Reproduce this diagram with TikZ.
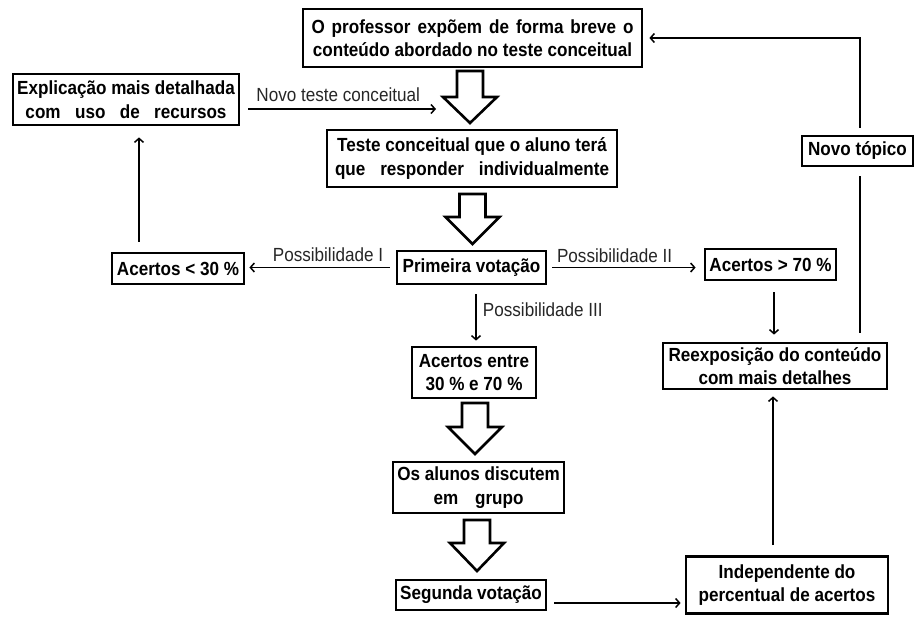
\documentclass[tikz,border=0pt]{standalone}
\usepackage{fontspec}
\setmainfont{Liberation Sans}[FakeStretch=0.9]
\usetikzlibrary{arrows.meta}
\newcommand\hollowarrow[4]{% x, top, headstart, tip
  \draw[hollow] (#1-13,#2) -- (#1+13,#2) -- (#1+13,#3) -- (#1+27,#3) -- (#1,#4)
    -- (#1-27,#3) -- (#1-13,#3) -- cycle;}
\begin{document}
\begin{tikzpicture}[x=1pt,y=-1pt,
  box/.style={draw, line width=2.8pt, inner sep=0pt, align=center,
    font=\fontsize{19}{23.5}\selectfont\bfseries},
  lbl/.style={inner sep=0pt, text=black!85, font=\fontsize{19}{20}\selectfont},
  arr/.style={line width=1.9pt, -{Straight Barb[length=4pt,width=9pt,line width=1.5pt]}},
  plain/.style={line width=2.2pt},
  hollow/.style={line width=2.6pt, line join=miter, fill=white}]
\useasboundingbox (0,0) rectangle (915,616);
\fill[white] (0,0) rectangle (915,616);

\node[box, minimum width=339pt, minimum height=58pt] (top) at (472.5,38)
  {\makebox[322pt][s]{O professor expõem de forma breve o}\\conteúdo abordado no teste conceitual};
\node[box, minimum width=226pt, minimum height=51pt] (expl) at (126,99.5)
  {Explicação mais detalhada\\\makebox[201pt][s]{com uso de recursos}};
\node[box, minimum width=290pt, minimum height=57pt] (teste) at (472,158.5)
  {Teste conceitual que o aluno terá\\\makebox[274pt][s]{que responder individualmente}};
\node[box, minimum width=149pt, minimum height=33pt] (prim) at (471.5,267.5) {Primeira votação};
\node[box, minimum width=132pt, minimum height=31pt] (ac30) at (178,268.5) {Acertos < 30 \%};
\node[box, minimum width=131pt, minimum height=31pt] (ac70) at (770.5,264.5) {Acertos > 70 \%};
\node[box, minimum width=124pt, minimum height=51pt] (entre) at (474,372.5) {Acertos entre\\30 \% e 70 \%};
\node[box, minimum width=224pt, minimum height=46pt] (reex) at (775,366) {Reexposição do conteúdo\\com mais detalhes};
\node[box, minimum width=111pt, minimum height=30pt] (novo) at (857.5,151) {Novo tópico};
\node[box, minimum width=171pt, minimum height=51pt] (alunos) at (478.5,487.5) {Os alunos discutem\\\makebox[90pt][s]{em grupo}};
\node[box, minimum width=150pt, minimum height=30pt] (seg) at (471,595) {Segunda votação};
\node[box, minimum width=202pt, minimum height=57pt] (indep) at (787,585) {Independente do\\percentual de acertos};

\hollowarrow{470}{71}{97}{123}
\hollowarrow{472.5}{194}{217}{244}
\hollowarrow{475}{403}{427}{454}
\hollowarrow{477}{520}{543}{571}

\coordinate (nt) at (436,109);
\draw[arr, shorten <=8pt] ([yshift=-9.5pt]expl.east) -- (nt)
  node[lbl, midway, yshift=14pt] {Novo teste conceitual};
\draw[arr, shorten <=10pt, shorten >=11pt] ([xshift=-39pt]ac30.north) -- ([xshift=13pt]expl.south);
\draw[arr, shorten <=6pt, shorten >=4pt] (prim.west) -- (prim.west -| ac30.east)
  node[lbl, pos=0.45, yshift=12.5pt] {Possibilidade I};
\draw[arr, shorten <=5pt, shorten >=8pt] (prim.east) -- (prim.east -| ac70.west)
  node[lbl, pos=0.43, yshift=11.5pt] {Possibilidade II};
\draw[arr, shorten <=9pt, shorten >=5pt] ([xshift=4.5pt]prim.south) -- ([xshift=4.5pt]prim.south |- entre.north)
  node[lbl, pos=0.41, anchor=west, xshift=6pt] {Possibilidade III};
\draw[arr, shorten <=11pt, shorten >=7pt] ([xshift=3.5pt]ac70.south) -- ([xshift=3.5pt]ac70.south |- reex.north);
\draw[plain, shorten <=9pt, shorten >=9pt] ([xshift=2.5pt]novo.south) -- ([xshift=2.5pt]novo.south |- reex.north);
\draw[arr, shorten <=7pt, shorten >=6pt] ([xshift=2.5pt]novo.north) |- (top.east);
\draw[arr, shorten <=10pt, shorten >=6pt] ([xshift=-2pt]reex.south |- indep.north) -- ([xshift=-2pt]reex.south);
\draw[arr, shorten <=7pt, shorten >=4pt] ([yshift=-8pt]seg.east) -- ([yshift=-8pt]seg.east -| indep.west);
\end{tikzpicture}
\end{document}
